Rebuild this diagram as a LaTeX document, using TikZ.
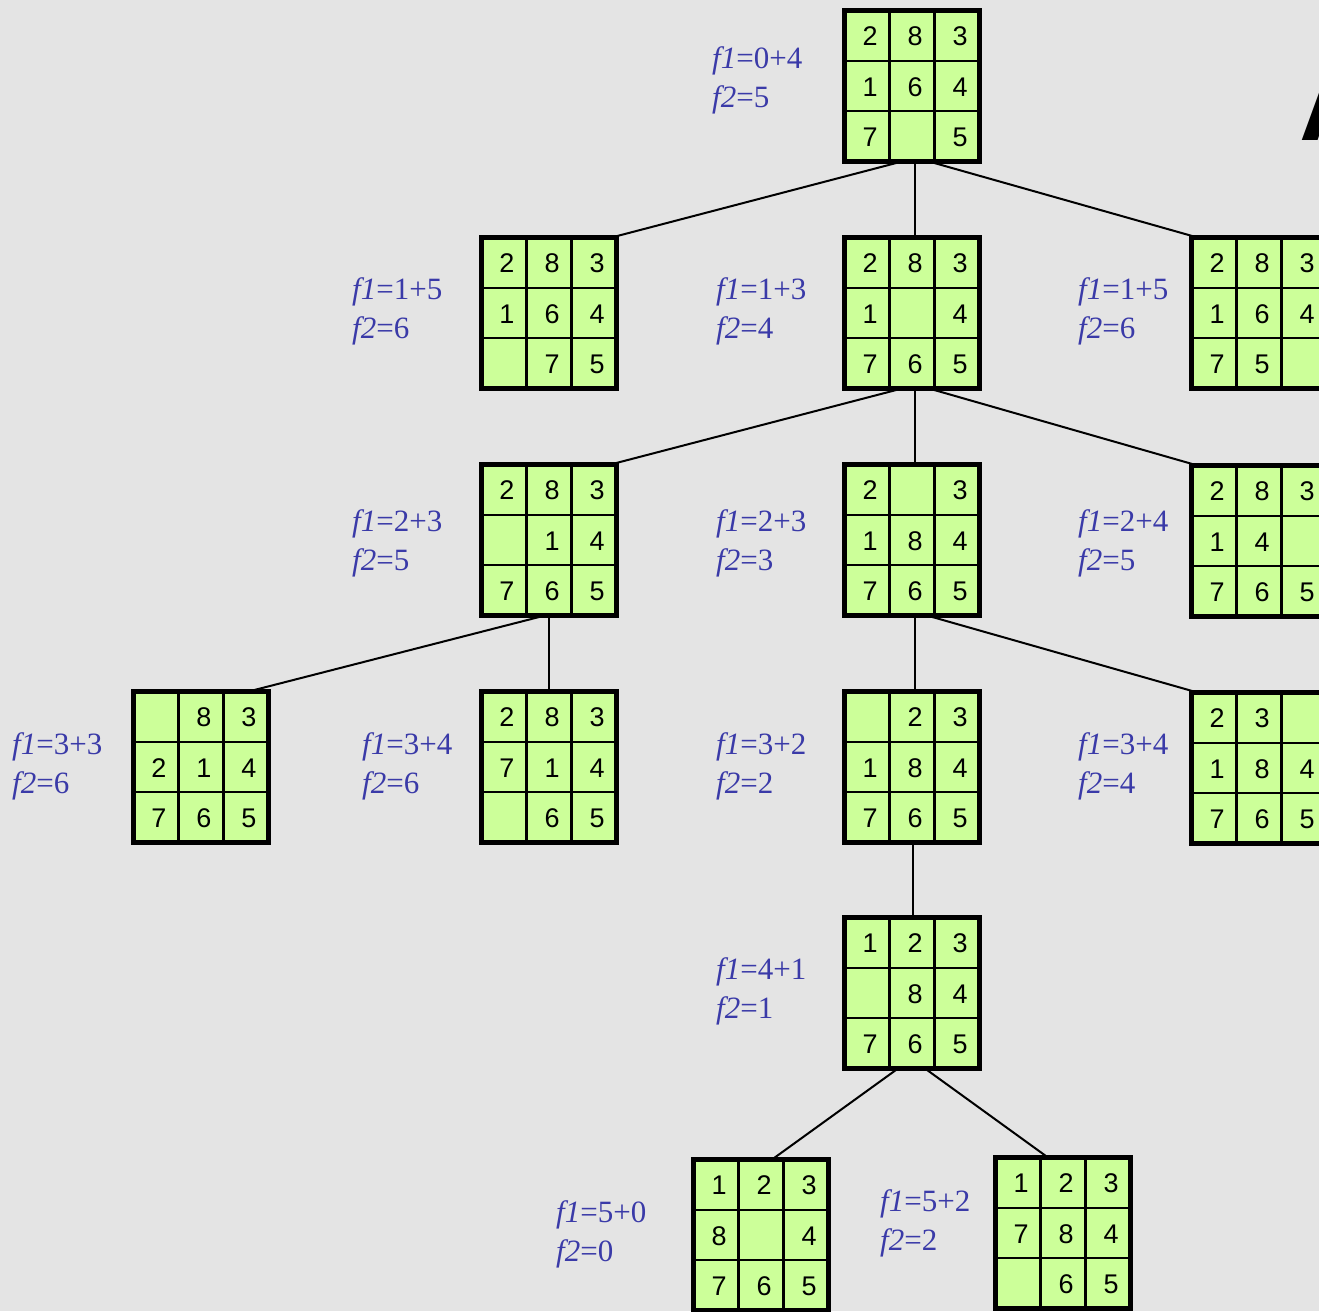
\documentclass[tikz,border=0pt]{standalone}
\usepackage{fontspec}
\setmainfont{Liberation Serif}
\newfontfamily\digitfont{Liberation Sans}
\usetikzlibrary{calc}
\definecolor{bgc}{RGB}{228,228,228}
\definecolor{puzgreen}{RGB}{204,255,153}
\definecolor{labelblue}{RGB}{58,58,168}
\tikzset{
  puzbox/.style={draw=black, line width=5.5pt, fill=puzgreen, minimum width=135pt,
    minimum height=151pt, inner sep=0pt, outer sep=0pt},
  gridline/.style={line width=2.2pt, black},
  digit/.style={font=\digitfont\fontsize{27}{27}\selectfont, inner sep=0pt},
  flabel/.style={font=\fontsize{31}{39}\selectfont, text=labelblue, align=left,
    anchor=base west, inner sep=0pt},
  treeedge/.style={line width=2pt, black},
}
\newcommand\puzzle[4]{%
  \node[puzbox] (#1) at (#2,#3) {};
  \draw[gridline] ($(#1.north west)!1/3!(#1.north east)$) -- ($(#1.south west)!1/3!(#1.south east)$);
  \draw[gridline] ($(#1.north west)!2/3!(#1.north east)$) -- ($(#1.south west)!2/3!(#1.south east)$);
  \draw[gridline] ($(#1.north west)!1/3!(#1.south west)$) -- ($(#1.north east)!1/3!(#1.south east)$);
  \draw[gridline] ($(#1.north west)!2/3!(#1.south west)$) -- ($(#1.north east)!2/3!(#1.south east)$);
  \foreach \v [count=\i from 0] in {#4} {%
    \pgfmathtruncatemacro\rr{div(\i,3)}%
    \pgfmathtruncatemacro\cc{mod(\i,3)}%
    \ifnum\v>0
      \node[digit] (#1-\i) at ($(#1.north west)+(25.5+45*\cc,26+50.33*\rr)$) {\v};
    \fi
  }%
}
\begin{document}
\begin{tikzpicture}[x=1pt,y=-1pt]
\useasboundingbox (0,0) rectangle (1319,1311);
\clip (0,0) rectangle (1319,1311);
\fill[bgc] (0,0) rectangle (1319,1311);

% title fragment
\node[font=\digitfont\bfseries\fontsize{110}{110}\selectfont, anchor=base west, inner sep=0pt] (titleA) at (1299,140) {A};

% puzzles
\puzzle{root}{912}{86}{2,8,3,1,6,4,7,0,5}
\puzzle{l1a}{549}{313}{2,8,3,1,6,4,0,7,5}
\puzzle{l1b}{912}{313}{2,8,3,1,0,4,7,6,5}
\puzzle{l1c}{1259}{313}{2,8,3,1,6,4,7,5,0}
\puzzle{l2a}{549}{540}{2,8,3,0,1,4,7,6,5}
\puzzle{l2b}{912}{540}{2,0,3,1,8,4,7,6,5}
\puzzle{l2c}{1259}{541}{2,8,3,1,4,0,7,6,5}
\puzzle{l3a}{201}{767}{0,8,3,2,1,4,7,6,5}
\puzzle{l3b}{549}{767}{2,8,3,7,1,4,0,6,5}
\puzzle{l3c}{912}{767}{0,2,3,1,8,4,7,6,5}
\puzzle{l3d}{1259}{768}{2,3,0,1,8,4,7,6,5}
\puzzle{l4}{912}{993}{1,2,3,0,8,4,7,6,5}
\puzzle{l5a}{761}{1235}{1,2,3,8,0,4,7,6,5}
\puzzle{l5b}{1063}{1233}{1,2,3,7,8,4,0,6,5}

% edges
\draw[treeedge] ([xshift=-10pt]root.south) -- ([xshift=-5pt]l1a.north east);
\draw[treeedge] ([xshift=3pt]root.south) -- ([xshift=3pt]l1b.north);
\draw[treeedge] ([xshift=17pt]root.south) -- ([xshift=6pt]l1c.north west);
\draw[treeedge] ([xshift=-10pt]l1b.south) -- ([xshift=-6pt]l2a.north east);
\draw[treeedge] ([xshift=3pt]l1b.south) -- ([xshift=3pt]l2b.north);
\draw[treeedge] ([xshift=17pt]l1b.south) -- ([xshift=6pt]l2c.north west);
\draw[treeedge] ([xshift=-4pt]l2a.south) -- ([xshift=-20pt]l3a.north east);
\draw[treeedge] (l2a.south) -- (l3b.north);
\draw[treeedge] ([xshift=3pt]l2b.south) -- ([xshift=3pt]l3c.north);
\draw[treeedge] ([xshift=15pt]l2b.south) -- ([xshift=6pt]l3d.north west);
\draw[treeedge] ([xshift=1pt]l3c.south) -- ([xshift=1pt]l4.north);
\draw[treeedge] ([xshift=-14pt]l4.south) -- ([xshift=11pt]l5a.north);
\draw[treeedge] ([xshift=13pt]l4.south) -- ([xshift=-15pt]l5b.north);

% labels (anchor is the baseline of the second line)
\node[flabel] (lab-root) at (712,108) {\textit{f1}=0+4\\\textit{f2}=5};
\node[flabel] (lab-l1a) at (352,338) {\textit{f1}=1+5\\\textit{f2}=6};
\node[flabel] (lab-l1b) at (716,338) {\textit{f1}=1+3\\\textit{f2}=4};
\node[flabel] (lab-l1c) at (1078,338) {\textit{f1}=1+5\\\textit{f2}=6};
\node[flabel] (lab-l2a) at (352,570) {\textit{f1}=2+3\\\textit{f2}=5};
\node[flabel] (lab-l2b) at (716,570) {\textit{f1}=2+3\\\textit{f2}=3};
\node[flabel] (lab-l2c) at (1078,570) {\textit{f1}=2+4\\\textit{f2}=5};
\node[flabel] (lab-l3a) at (12,793) {\textit{f1}=3+3\\\textit{f2}=6};
\node[flabel] (lab-l3b) at (362,793) {\textit{f1}=3+4\\\textit{f2}=6};
\node[flabel] (lab-l3c) at (716,793) {\textit{f1}=3+2\\\textit{f2}=2};
\node[flabel] (lab-l3d) at (1078,793) {\textit{f1}=3+4\\\textit{f2}=4};
\node[flabel] (lab-l4) at (716,1018) {\textit{f1}=4+1\\\textit{f2}=1};
\node[flabel] (lab-l5a) at (556,1261) {\textit{f1}=5+0\\\textit{f2}=0};
\node[flabel] (lab-l5b) at (880,1250) {\textit{f1}=5+2\\\textit{f2}=2};
\end{tikzpicture}
\end{document}
